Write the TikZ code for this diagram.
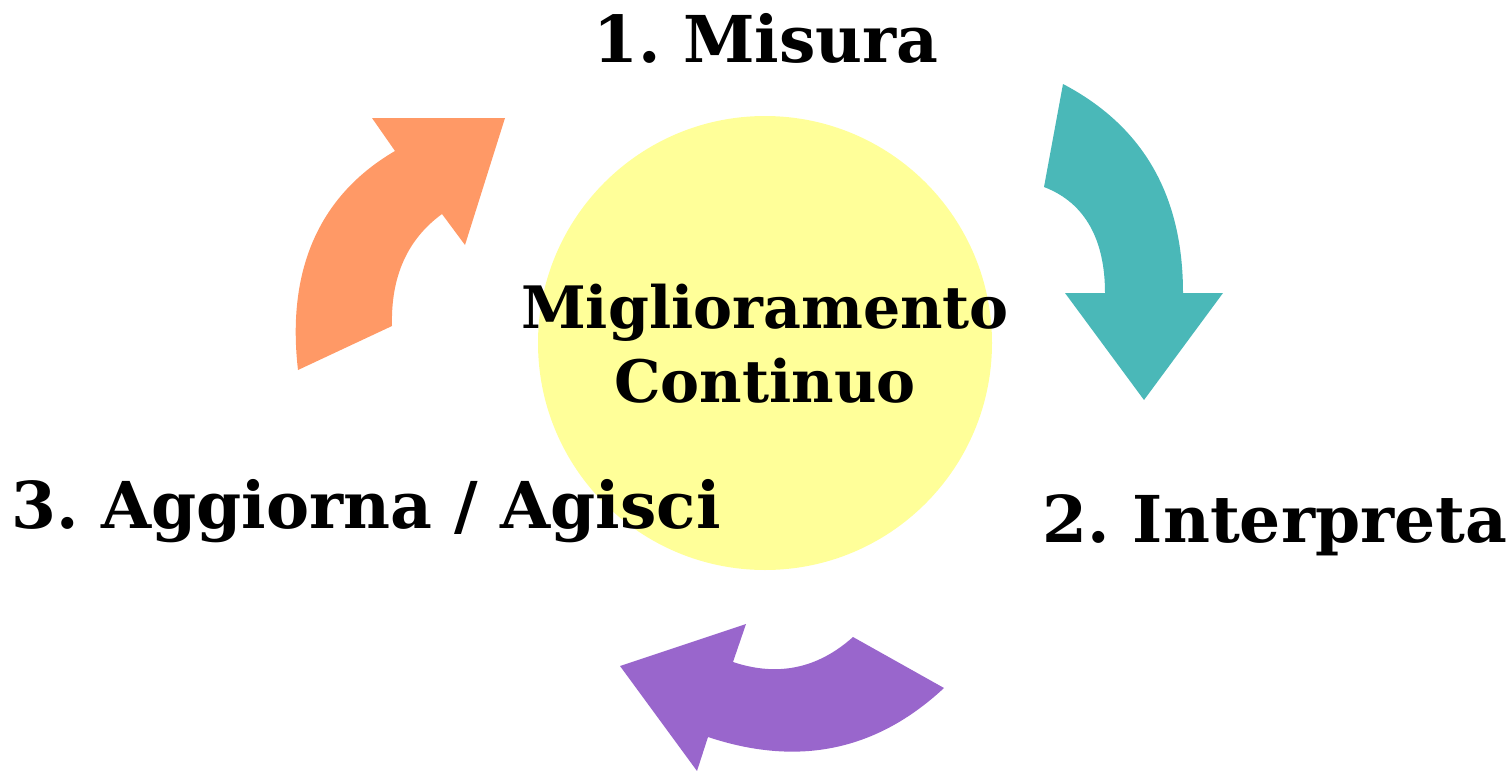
\documentclass[tikz,border=0pt]{standalone}
\usepackage{fontspec}
\setmainfont{DejaVu Serif}
\usepackage{xcolor}
\usetikzlibrary{calc}

\definecolor{giallo}{HTML}{FFFF99}
\definecolor{verdeacqua}{HTML}{4AB8B8}
\definecolor{arancio}{HTML}{FF9966}
\definecolor{viola}{HTML}{9966CC}

\tikzset{
  fase/.style={font=\fontsize{64.6}{77}\selectfont\bfseries, inner sep=0pt, anchor=base},
  freccia/.style={draw=none}
}

\begin{document}
\frenchspacing
\begin{tikzpicture}[x=1pt,y=-1pt]
  \useasboundingbox (0,0) rectangle (1510,771);%

  \def\cx{765} \def\cy{343} \def\raggio{227}%

  \fill[giallo] (\cx,\cy) circle (\raggio);%

  % frecce curve del ciclo
  \fill[verdeacqua, freccia] (1063,84) .. controls (1143,126) and (1183,195) .. (1183,293)
    -- (1223,293) -- (1144,400) -- (1065,293) -- (1105,293)
    .. controls (1105,241) and (1086,203) .. (1044,187) -- cycle;%
  \fill[viola, freccia] (944,688) -- (853,637)
    .. controls (817.7,668.6) and (777.7,676.9) .. (733,662)
    -- (746,624) -- (620,666) -- (697,771) -- (708,737)
    .. controls (798.5,767.1) and (876.5,750.8) .. (944,688) -- cycle;%
  \fill[arancio, freccia] (298,370) .. controls (286,266.7) and (321.7,193.7) .. (395,151)
    -- (372,118) -- (505,118) -- (465,245) -- (442,214)
    .. controls (407.3,239.3) and (390.7,276.7) .. (392,326) -- cycle;%

  \node[font=\fontsize{58.5}{74}\selectfont\bfseries, align=center, inner sep=0pt]
    (centro) at (\cx,344) {Miglioramento\\Continuo};%

  \node[fase] (misura) at (766,62) {1. Misura};%
  \node[fase] (interpreta) at (1275,542) {2. Interpreta};%
  \node[fase] (aggiorna) at (366,528) {3. Aggiorna / Agisci};%
\end{tikzpicture}
\end{document}
